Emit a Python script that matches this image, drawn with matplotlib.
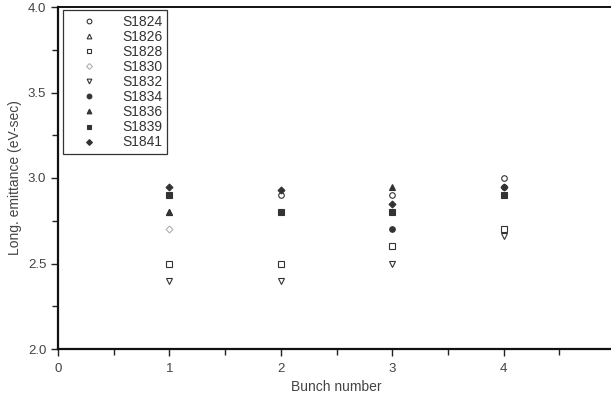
import numpy as np
import matplotlib.pyplot as plt
from matplotlib.ticker import MultipleLocator

plt.rcParams['font.family'] = ['Liberation Sans', 'DejaVu Sans']

# data: long. emittance per bunch for each shot (nan = not shown)
bunch = [1, 2, 3, 4]
nan = np.nan
S1824 = [nan, 2.90, 2.90, 3.00]
S1826 = [2.80, nan, nan, nan]
S1828 = [2.50, 2.50, 2.60, 2.70]
S1830 = [2.70, nan, nan, nan]
S1832 = [2.40, 2.40, 2.50, 2.66]
S1834 = [nan, nan, 2.70, 2.95]
S1836 = [2.80, nan, 2.95, nan]
S1839 = [2.90, 2.80, 2.80, 2.90]
S1841 = [2.95, 2.93, 2.85, 2.95]

dark = '#333333'
series = [
    ('S1824', S1824, 'o', 'none', dark),
    ('S1826', S1826, '^', 'none', dark),
    ('S1828', S1828, 's', 'none', dark),
    ('S1830', S1830, 'D', 'none', '#b0b0b0'),
    ('S1832', S1832, 'v', 'none', dark),
    ('S1834', S1834, 'o', dark, dark),
    ('S1836', S1836, '^', dark, dark),
    ('S1839', S1839, 's', dark, dark),
    ('S1841', S1841, 'D', dark, dark),
]

fig = plt.figure(figsize=(6.11, 3.96), dpi=100)
ax = fig.add_axes([58 / 611, 47 / 396, 557 / 611, 342 / 396])

for name, vals, m, fc, ec in series:
    ms = 3.5 if m == 'D' else 4
    ax.plot(bunch, vals, linestyle='none', marker=m, markersize=ms,
            markerfacecolor=fc, markeredgecolor=ec, markeredgewidth=0.8,
            label=name)

ax.set_xlim(0, 5)
ax.set_ylim(2.0, 4.0)
ax.set_xticks([0, 1, 2, 3, 4])
ax.xaxis.set_minor_locator(MultipleLocator(0.5))
ax.yaxis.set_major_locator(MultipleLocator(0.5))
ax.yaxis.set_minor_locator(MultipleLocator(0.25))
ax.yaxis.set_major_formatter(plt.FormatStrFormatter('%.1f'))

ax.tick_params(which='both', direction='out', colors='#222222',
               labelcolor='#444444', labelsize=9.5)
ax.tick_params(which='major', length=5, width=1)
ax.tick_params(which='minor', length=4, width=1)
ax.tick_params(axis='x', pad=5)

for s in ['left', 'bottom']:
    ax.spines[s].set_linewidth(1.6)
ax.spines['top'].set_linewidth(1.4)
ax.spines['right'].set_visible(False)
for s in ax.spines.values():
    s.set_color('#111111')

ax.set_xlabel('Bunch number', fontsize=10, color='#444444', labelpad=4)
ax.set_ylabel('Long. emittance (eV-sec)', fontsize=10, color='#444444', labelpad=4)

leg = ax.legend(loc='upper left', bbox_to_anchor=(0.009, 0.992), fontsize=10,
                frameon=True, fancybox=False, edgecolor='black',
                labelspacing=0.08, handlelength=3.0, handletextpad=0.9,
                borderpad=0.35, borderaxespad=0.0, markerscale=0.85)
leg.get_frame().set_linewidth(0.9)
for t in leg.get_texts():
    t.set_color('#333333')

fig.savefig('out.png', dpi=100)
